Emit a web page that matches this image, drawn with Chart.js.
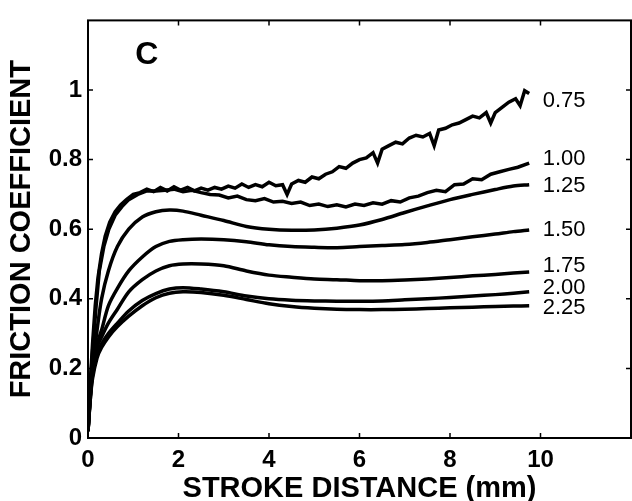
<!DOCTYPE html>
<html>
<head>
<meta charset="utf-8">
<script src="https://cdn.jsdelivr.net/npm/chart.js@4.4.1/dist/chart.umd.min.js"></script>
<style>
  html, body { margin: 0; padding: 0; background: #fff; }
</style>
</head>
<body>
<canvas id="chart" width="632" height="501"></canvas>
<script>
// tick labels
const xTicks = [0, 2, 4, 6, 8, 10];
const yTicks = [0, 0.2, 0.4, 0.6, 0.8, 1];

// series names (printed at the right end of each curve) and where they sit
const seriesNames = ["0.75", "1.00", "1.25", "1.50", "1.75", "2.00", "2.25"];
const nameY = [0.969, 0.801, 0.724, 0.598, 0.495, 0.432, 0.374];

// shared x grid for the smooth curves
const xsSmooth = [0, 0.05, 0.1, 0.2, 0.3, 0.45, 0.65, 0.9, 1.2, 1.5, 1.8, 2.1, 2.5, 3.0, 3.5, 4.0,
    4.5, 5.0, 5.5, 6.0, 6.5, 7.0, 7.5, 8.0, 8.5, 9.0, 9.4, 9.75];

const y125 = [0.02, 0.12, 0.2, 0.31, 0.4, 0.48, 0.55, 0.6, 0.635, 0.65, 0.655, 0.652, 0.64, 0.625, 0.608, 0.6,
    0.597, 0.598, 0.603, 0.612, 0.628, 0.648, 0.667, 0.685, 0.7, 0.714, 0.724, 0.728];
const y150 = [0.02, 0.12, 0.19, 0.27, 0.31, 0.38, 0.43, 0.48, 0.52, 0.55, 0.565, 0.57, 0.572, 0.57, 0.564, 0.555,
    0.55, 0.548, 0.547, 0.55, 0.553, 0.556, 0.562, 0.57, 0.578, 0.586, 0.593, 0.598];
const y175 = [0.02, 0.12, 0.19, 0.26, 0.29, 0.33, 0.37, 0.42, 0.455, 0.48, 0.495, 0.5, 0.5, 0.495, 0.48, 0.468,
    0.462, 0.457, 0.455, 0.452, 0.452, 0.454, 0.457, 0.461, 0.466, 0.47, 0.474, 0.477];
const y200 = [0.02, 0.11, 0.18, 0.24, 0.27, 0.3, 0.33, 0.365, 0.395, 0.415, 0.428, 0.432, 0.428, 0.42, 0.408, 0.4,
    0.396, 0.394, 0.393, 0.393, 0.394, 0.397, 0.4, 0.404, 0.408, 0.412, 0.416, 0.42];
const y225 = [0.02, 0.11, 0.17, 0.23, 0.26, 0.29, 0.32, 0.35, 0.38, 0.403, 0.416, 0.42, 0.418, 0.41, 0.398, 0.386,
    0.378, 0.373, 0.37, 0.369, 0.369, 0.37, 0.372, 0.374, 0.376, 0.378, 0.379, 0.38];

// the two noisy curves have their own, denser x grids
const xs100 = [0, 0.05, 0.1, 0.18, 0.25, 0.35, 0.46, 0.6, 0.75, 0.9, 1.1, 1.3, 1.5, 1.7, 1.9, 2.1, 2.3, 2.5,
    2.7, 2.9, 3.1, 3.3, 3.5, 3.7, 3.9, 4.1, 4.3, 4.5, 4.7, 4.9, 5.1, 5.3, 5.5, 5.7, 5.9, 6.1, 6.3, 6.5,
    6.7, 6.9, 7.1, 7.3, 7.5, 7.7, 7.9, 8.1, 8.3, 8.5, 8.7, 8.9, 9.1, 9.3, 9.5, 9.75];
const y100 = [0.02, 0.15, 0.25, 0.38, 0.48, 0.55, 0.6, 0.64, 0.665, 0.685, 0.7, 0.71, 0.71, 0.712, 0.715, 0.708,
    0.712, 0.705, 0.7, 0.698, 0.69, 0.695, 0.685, 0.682, 0.688, 0.678, 0.68, 0.674, 0.678, 0.668, 0.672,
    0.665, 0.67, 0.664, 0.672, 0.668, 0.676, 0.672, 0.682, 0.678, 0.69, 0.695, 0.705, 0.712, 0.708, 0.728,
    0.73, 0.745, 0.742, 0.758, 0.765, 0.772, 0.778, 0.79];

const xs075 = [0, 0.05, 0.1, 0.16, 0.22, 0.3, 0.38, 0.48, 0.6, 0.72, 0.85, 1.0, 1.15, 1.3, 1.45, 1.6, 1.75,
    1.9, 2.05, 2.2, 2.35, 2.5, 2.65, 2.8, 2.95, 3.1, 3.25, 3.4, 3.55, 3.7, 3.85, 4.0, 4.15, 4.3, 4.4, 4.5,
    4.65, 4.8, 4.95, 5.1, 5.25, 5.4, 5.55, 5.7, 5.85, 6.0, 6.15, 6.3, 6.4, 6.5, 6.65, 6.8, 6.95, 7.1, 7.25,
    7.4, 7.55, 7.65, 7.75, 7.9, 8.05, 8.2, 8.35, 8.5, 8.65, 8.8, 8.9, 9.0, 9.15, 9.3, 9.45, 9.55, 9.65, 9.75];
const y075 = [0.02, 0.16, 0.27, 0.38, 0.46, 0.53, 0.58, 0.62, 0.65, 0.67, 0.685, 0.7, 0.705, 0.715, 0.708,
    0.72, 0.71, 0.722, 0.712, 0.72, 0.71, 0.718, 0.712, 0.72, 0.715, 0.724, 0.718, 0.73, 0.72, 0.728, 0.722,
    0.735, 0.725, 0.728, 0.7, 0.73, 0.74, 0.735, 0.75, 0.745, 0.758, 0.765, 0.78, 0.775, 0.79, 0.8, 0.805,
    0.82, 0.79, 0.83, 0.84, 0.85, 0.845, 0.862, 0.87, 0.865, 0.875, 0.84, 0.885, 0.89, 0.9, 0.905, 0.915,
    0.925, 0.92, 0.935, 0.905, 0.935, 0.95, 0.965, 0.975, 0.955, 0.998, 0.99];

const curves = [
    [xs075, y075, 0],
    [xs100, y100, 0],
    [xsSmooth, y125, 0.3],
    [xsSmooth, y150, 0.3],
    [xsSmooth, y175, 0.3],
    [xsSmooth, y200, 0.3],
    [xsSmooth, y225, 0.3],
];

const FONT = "'Liberation Sans', Arial, Helvetica, sans-serif";

// box around the plot, with short ticks pointing inward on every side
const framePlugin = {
    id: "frame",
    afterDraw(chart) {
        const { ctx, chartArea: a, scales } = chart;
        ctx.save();
        ctx.strokeStyle = "#000";
        ctx.lineWidth = 2;
        ctx.strokeRect(a.left, a.top, a.right - a.left, a.bottom - a.top);
        ctx.lineWidth = 1.5;
        ctx.beginPath();
        xTicks.forEach((v) => {
            const px = scales.x.getPixelForValue(v);
            ctx.moveTo(px, a.bottom); ctx.lineTo(px, a.bottom - 5);
            ctx.moveTo(px, a.top); ctx.lineTo(px, a.top + 5);
        });
        yTicks.forEach((v) => {
            const py = scales.y.getPixelForValue(v);
            ctx.moveTo(a.left, py); ctx.lineTo(a.left + 5, py);
            ctx.moveTo(a.right, py); ctx.lineTo(a.right - 5, py);
        });
        ctx.stroke();
        ctx.restore();
    },
};

// curve names at the right and the panel letter
const namesPlugin = {
    id: "names",
    afterDatasetsDraw(chart) {
        const { ctx, scales } = chart;
        ctx.save();
        ctx.fillStyle = "#000";
        ctx.textBaseline = "middle";
        ctx.textAlign = "left";
        ctx.font = "22px " + FONT;
        seriesNames.forEach((name, i) => {
            ctx.fillText(name, scales.x.getPixelForValue(10.05), scales.y.getPixelForValue(nameY[i]));
        });
        ctx.textAlign = "center";
        ctx.font = "bold 32px " + FONT;
        ctx.fillText("C", scales.x.getPixelForValue(1.3), scales.y.getPixelForValue(1.1));
        ctx.restore();
    },
};

new Chart(document.getElementById("chart"), {
    type: "line",
    data: {
        datasets: curves.map(([xs, ys, tension], i) => ({
            label: seriesNames[i],
            data: xs.map((x, j) => ({ x, y: ys[j] })),
            borderColor: "#000",
            borderWidth: 3.5,
            pointRadius: 0,
            tension,
            fill: false,
        })),
    },
    options: {
        responsive: false,
        animation: false,
        layout: { padding: { top: 14, right: 1, left: 0, bottom: 0 } },
        plugins: { legend: { display: false }, tooltip: { enabled: false } },
        scales: {
            x: {
                type: "linear",
                min: 0,
                max: 12,
                grid: { display: false, drawTicks: false },
                border: { display: false },
                afterBuildTicks: (s) => { s.ticks = xTicks.map((v) => ({ value: v })); },
                afterFit: (s) => { s.height = 63; },
                ticks: {
                    color: "#000", padding: 8, maxRotation: 0, autoSkip: false,
                    font: { family: FONT, size: 24, weight: "bold" },
                    callback: (v) => String(v),
                },
                title: {
                    display: true,
                    text: "STROKE DISTANCE (mm)",
                    color: "#000",
                    padding: 0,
                    font: { family: FONT, size: 29, weight: "bold", lineHeight: 0.8 },
                },
            },
            y: {
                min: 0,
                max: 1.2,
                grid: { display: false, drawTicks: false },
                border: { display: false },
                afterBuildTicks: (s) => { s.ticks = yTicks.map((v) => ({ value: v })); },
                afterFit: (s) => { s.width = 88; },
                ticks: {
                    color: "#000", padding: 6, autoSkip: false,
                    font: { family: FONT, size: 24, weight: "bold" },
                    callback: (v) => String(v),
                },
                title: {
                    display: true,
                    text: "FRICTION COEFFICIENT",
                    color: "#000",
                    padding: { top: 5, bottom: 0 },
                    font: { family: FONT, size: 29, weight: "bold" },
                },
            },
        },
    },
    plugins: [framePlugin, namesPlugin],
});
</script>
</body>
</html>
